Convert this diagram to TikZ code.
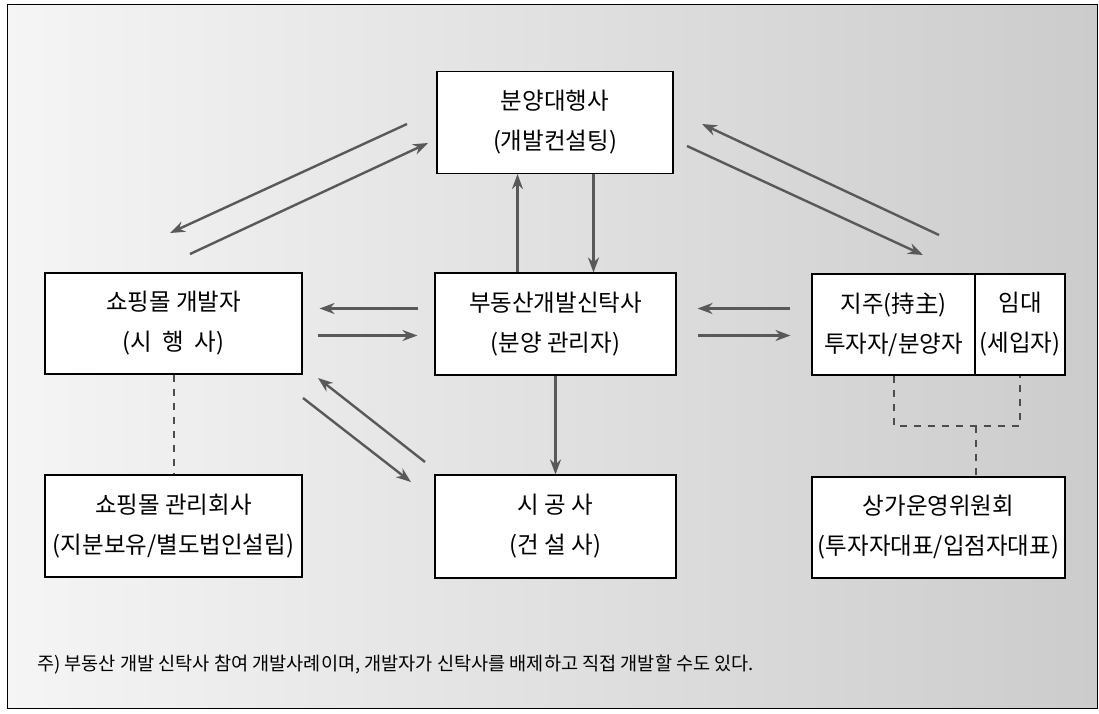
\documentclass[tikz,border=0pt]{standalone}
\usepackage{fontspec}
\setmainfont{Noto Sans CJK KR}
\usetikzlibrary{arrows.meta,calc}
\begin{document}
\begin{tikzpicture}[x=1pt,y=-1pt,
  box/.style={draw=black,line width=1.1pt,fill=white,minimum height=102pt,align=center,
    font=\fontsize{23.5}{40}\selectfont,inner sep=0pt},
  arr/.style={draw=black!65,line width=2.4pt,-{Stealth[length=15pt,width=11pt]}},
  dashline/.style={draw=black!70,line width=2pt,dash pattern=on 7pt off 7pt},
  note/.style={font=\fontsize{18.6}{20}\selectfont,anchor=west,inner sep=0pt}]
\useasboundingbox (0,0) rectangle (1099,713);
\shade[left color=black!4,right color=black!20] (7,4) rectangle (1097,708);
\draw[black,line width=1pt] (7,4) rectangle (1097,708);

\node[box,minimum width=236pt] (top) at (555,122.5) {분양대행사\\(개발컨설팅)};
\node[box,minimum width=257pt,minimum height=101pt] (dev) at (173.5,323.5) {쇼핑몰 개발자\\(시~~행~~사)};
\node[box,minimum width=241pt] (trust) at (555.5,324) {부동산개발신탁사\\(분양 관리자)};
\node[box,minimum width=163pt,minimum height=101pt] (jiju) at (893.5,324.5) {지주(持主)\\투자자/분양자};
\node[box,minimum width=90pt,minimum height=101pt] (imde) at (1020,324.5) {임대\\(세입자)};
\node[box,minimum width=257pt] (mgmt) at (173.5,526) {쇼핑몰 관리회사\\(지분보유/별도법인설립)};
\node[box,minimum width=241pt,minimum height=103pt] (cons) at (555.5,526.5) {시~공~사\\(건~설~사)};
\node[box,minimum width=253pt,minimum height=101pt] (comm) at (938.5,527.5) {상가운영위원회\\(투자자대표/입점자대표)};

% vertical arrows
\draw[arr] ([xshift=-38pt]trust.north) -- ([xshift=-38pt]trust.north |- top.south);
\draw[arr] ([xshift=38pt]trust.north |- top.south) -- ([xshift=38pt]trust.north);
\draw[arr] (trust.south) -- (cons.north);

% horizontal arrows left
\draw[arr,shorten <=16pt,shorten >=17pt] ([yshift=15.5pt]trust.west) -- ([yshift=15.5pt]trust.west -| dev.east);
\draw[arr,shorten <=15pt,shorten >=17pt] ([yshift=-11.5pt]trust.west -| dev.east) -- ([yshift=-11.5pt]trust.west);
% horizontal arrows right
\draw[arr,shorten <=21pt,shorten >=21pt] ([yshift=15.5pt]trust.west -| jiju.west) -- ([yshift=15.5pt]trust.east);
\draw[arr,shorten <=21pt,shorten >=21pt] ([yshift=-11.5pt]trust.east) -- ([yshift=-11.5pt]trust.east -| jiju.west);

% diagonal arrows
\coordinate (a1s) at (407,124); \coordinate (a1e) at (170,233);
\coordinate (a2s) at (190,254); \coordinate (a2e) at (428,143);
\coordinate (b1s) at (939,235); \coordinate (b1e) at (702,124);
\coordinate (b2s) at (687,146); \coordinate (b2e) at (923,255);
\coordinate (c1s) at (425,462); \coordinate (c1e) at (318,378);
\coordinate (c2s) at (303,398); \coordinate (c2e) at (411,482);
\draw[arr] (a1s) -- (a1e);
\draw[arr] (a2s) -- (a2e);
\draw[arr] (b1s) -- (b1e);
\draw[arr] (b2s) -- (b2e);
\draw[arr] (c1s) -- (c1e);
\draw[arr] (c2s) -- (c2e);

% dashed connectors
\draw[dashline] (dev.south) -- (dev.south |- mgmt.north);
\draw[dashline] (jiju.south) -- ++(0,50) -| (imde.south);
\draw[dashline] (jiju.south east) ++(0,50) -- (comm.north -| jiju.east);

\node[note] (fn) at (37,665) {주) 부동산 개발 신탁사 참여 개발사례이며, 개발자가 신탁사를 배제하고 직접 개발할 수도 있다.};
\end{tikzpicture}
\end{document}
